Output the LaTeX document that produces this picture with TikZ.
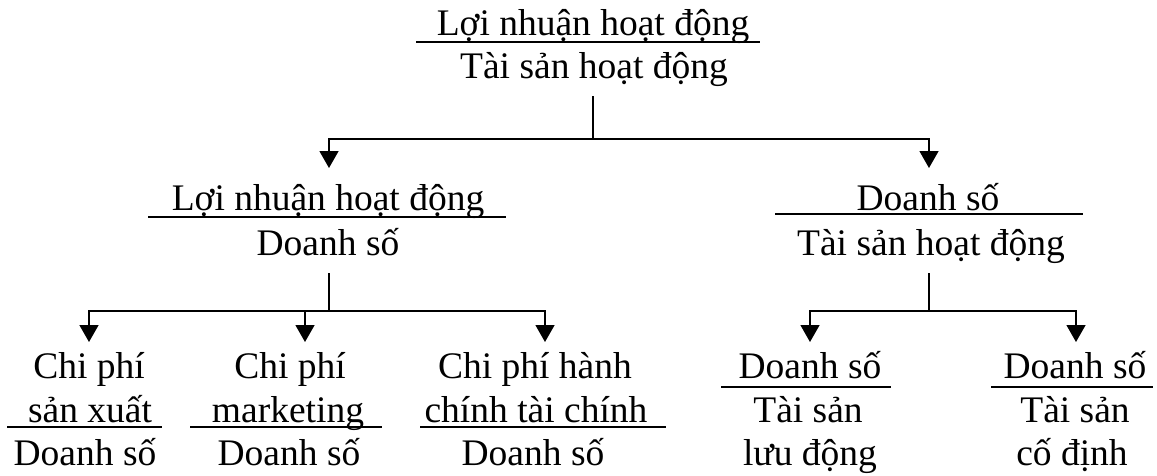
\documentclass[tikz,border=0pt]{standalone}
\usepackage{fontspec}
\setmainfont{Liberation Serif}
\usetikzlibrary{arrows.meta}
\begin{document}
\begin{tikzpicture}[x=1pt,y=-1pt,
  txt/.style={anchor=base,inner sep=0pt,font=\fontsize{37.5}{44}\selectfont},
  bar/.style={line width=1.4pt},
  conn/.style={line width=1.4pt},
  arr/.style={conn,-{Triangle[length=17pt,width=19pt]}}]
\useasboundingbox[fill=white] (0,0) rectangle (1157,475);
% top
\node[txt] (T1) at (593,35) {Lợi nhuận hoạt động};
\draw[bar] (416,42) -- (760,42);
\node[txt] (T2) at (594,78) {Tài sản hoạt động};
\coordinate (Ts) at (593,96);
\coordinate (Tj) at (593,139);
% middle left
\node[txt] (A1) at (328,210) {Lợi nhuận hoạt động};
\draw[bar] (148,217) -- (506,217);
\node[txt] (A2) at (328,255) {Doanh số};
\coordinate (Atip) at (329,168);
\coordinate (As) at (329,273);
\coordinate (Aj) at (329,311);
% middle right
\node[txt] (B1) at (928,210) {Doanh số};
\draw[bar] (775,214) -- (1083,214);
\node[txt] (B2) at (931,255) {Tài sản hoạt động};
\coordinate (Btip) at (929,168);
\coordinate (Bs) at (929,273);
\coordinate (Bj) at (929,311);
% leaves
\node[txt] (L1a) at (89,378) {Chi phí};
\node[txt] (L1b) at (90,422) {sản xuất};
\draw[bar] (7,427) -- (162,427);
\node[txt] (L1c) at (85,465) {Doanh số};
\coordinate (L1tip) at (89,342);
\node[txt] (L2a) at (290,378) {Chi phí};
\node[txt] (L2b) at (288,422) {marketing};
\draw[bar] (190,427) -- (382,427);
\node[txt] (L2c) at (289,465) {Doanh số};
\coordinate (L2tip) at (305,342);
\node[txt] (L3a) at (535,378) {Chi phí hành};
\node[txt] (L3b) at (536,422) {chính tài chính};
\draw[bar] (420,427) -- (666,427);
\node[txt] (L3c) at (533,465) {Doanh số};
\coordinate (L3tip) at (545,342);
\node[txt] (L4a) at (810,378) {Doanh số};
\draw[bar] (721,387) -- (891,387);
\node[txt] (L4b) at (808,422) {Tài sản};
\node[txt] (L4c) at (810,465) {lưu động};
\coordinate (L4tip) at (810,342);
\node[txt] (L5a) at (1075,378) {Doanh số};
\draw[bar] (991,387) -- (1153,387);
\node[txt] (L5b) at (1075,422) {Tài sản};
\node[txt] (L5c) at (1072,465) {cố định};
\coordinate (L5tip) at (1076,342);
% connectors
\draw[conn] (Ts) -- (Tj);
\draw[arr] (Tj) -| (Atip);
\draw[arr] (Tj) -| (Btip);
\draw[conn] (As) -- (Aj);
\draw[arr] (Aj) -| (L1tip);
\draw[arr] (Aj) -| (L2tip);
\draw[arr] (Aj) -| (L3tip);
\draw[conn] (Bs) -- (Bj);
\draw[arr] (Bj) -| (L4tip);
\draw[arr] (Bj) -| (L5tip);
\end{tikzpicture}
\end{document}
